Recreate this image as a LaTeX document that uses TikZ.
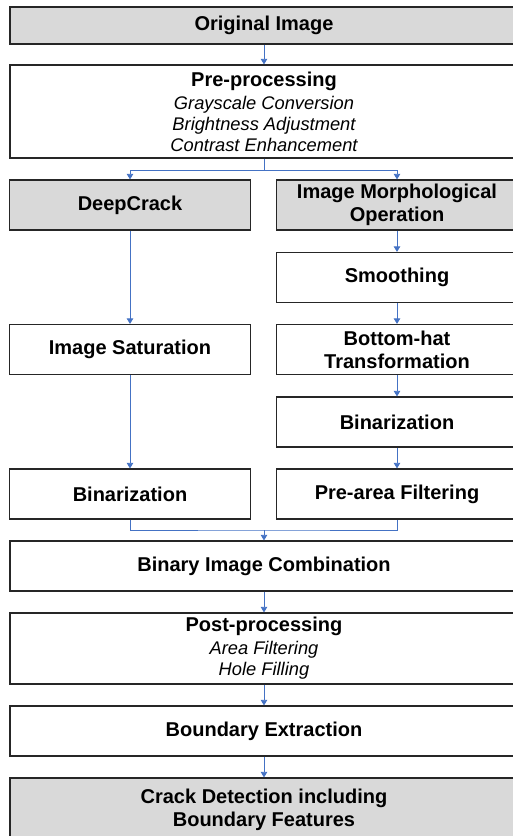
\documentclass[tikz,border=0pt]{standalone}
\usepackage{fontspec}
\setmainfont{Liberation Sans}
\usetikzlibrary{arrows.meta,positioning}
\definecolor{Link}{HTML}{4472C4}
\definecolor{Shade}{HTML}{D9D9D9}
\definecolor{Rule}{HTML}{262626}
\newcommand{\subtext}{\mdseries\itshape\fontsize{18.3}{21}\selectfont}

\begin{document}
\begin{tikzpicture}[x=1pt,y=-1pt,
  box/.style={draw=Rule,line width=1.2pt,fill=white,minimum height=50pt,inner sep=2pt,
    align=center,font=\bfseries\fontsize{20}{23}\selectfont},
  wide/.style={box,minimum width=508pt},
  half/.style={box,minimum width=241pt},
  shaded/.style={fill=Shade},
  link/.style={Link,line width=0.8pt},
  flow/.style={link,-{Triangle[length=5.5pt,width=6.5pt]}}
]
\useasboundingbox (0,0) rectangle (512,836);

% main column
\node[wide,shaded,minimum height=37pt] (orig) at (264,25.5) {Original Image};
\node[wide,minimum height=93pt] (pre) at (264,111.5) {Pre-processing\\
  {\subtext Grayscale Conversion}\\[-2pt]
  {\subtext Brightness Adjustment}\\[-2pt]
  {\subtext Contrast Enhancement}};

% left branch
\node[half,shaded] (deep) at (130,205) {DeepCrack};
\node[half] (sat) at (130,349.5) {Image Saturation};
\node[half] (binl) at (130,494) {Binarization};

% right branch
\node[half,shaded] (morph) at (397,205) {Image Morphological\\Operation};
\node[half] (smooth) at (397,277.5) {Smoothing};
\node[half] (tophat) at (397,349.5) {Bottom-hat\\Transformation};
\node[half] (binr) at (397,422) {Binarization};
\node[half] (prearea) at (397,494) {Pre-area Filtering};

% after the merge
\node[wide] (comb) at (264,566) {Binary Image Combination};
\node[wide,minimum height=71pt] (post) at (264,648.5) {Post-processing\\
  {\subtext Area Filtering}\\[-2pt]
  {\subtext Hole Filling}};
\node[wide] (bound) at (264,731) {Boundary Extraction};
\node[wide,shaded,minimum height=64pt] (crack) at (264,810) {Crack Detection including\\Boundary Features};

% connectors
\coordinate (fork) at (264,170);
\coordinate (join) at (264,530);
\draw[flow] (orig) -- (pre);
\draw[link] (pre.south) -- (fork);
\draw[flow] (fork) -| (deep.north);
\draw[flow] (fork) -| (morph.north);
\draw[flow] (deep) -- (sat);
\draw[flow] (sat) -- (binl);
\draw[flow] (morph) -- (smooth);
\draw[flow] (smooth) -- (tophat);
\draw[flow] (tophat) -- (binr);
\draw[flow] (binr) -- (prearea);
\draw[link] (binl.south) |- (join) -| (prearea.south);
\draw[flow] (join) -- (comb);
\draw[flow] (comb) -- (post);
\draw[flow] (post) -- (bound);
\draw[flow] (bound) -- (crack);
\end{tikzpicture}
\end{document}
